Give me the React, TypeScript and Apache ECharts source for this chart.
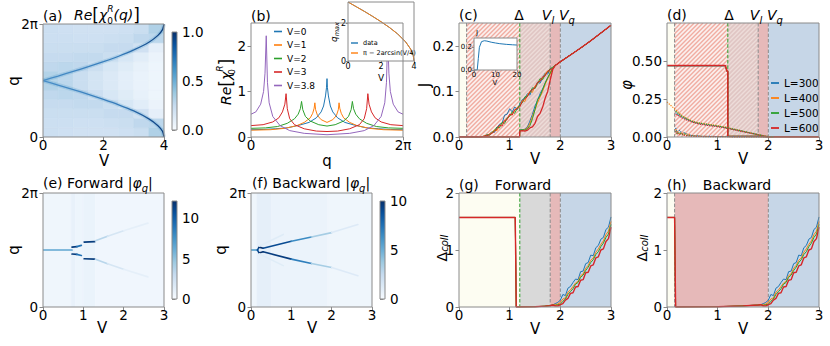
import React, { useEffect, useRef } from 'react';
import * as echarts from 'echarts';

const FONT = "'DejaVu Sans', sans-serif";
const PI = Math.PI;
const TWO_PI = 2 * Math.PI;

const L_COLORS = ['#1f77b4', '#ff7f0e', '#2ca02c', '#d62728'];
const L_NAMES = ['L=300', 'L=400', 'L=500', 'L=600'];
const V_COLORS = ['#1f77b4', '#ff7f0e', '#2ca02c', '#d62728', '#9467bd'];
const V_NAMES = ['V=0', 'V=1', 'V=2', 'V=3', 'V=3.8'];
const BLUES = ['#f7fbff', '#deebf7', '#c6dbef', '#9ecae1', '#6baed6', '#4292c6', '#2171b5', '#08519c', '#08306b'];

// ---------- (a) Re chi_0^R(q) map ----------
const chiVCentres = [0.25, 0.75, 1.25, 1.75, 2.25, 2.75, 3.25, 3.75];
const chiGrid = [
  [0.22, 0.22, 0.23, 0.25, 0.27, 0.31, 0.31, 0.27, 0.25, 0.23, 0.22, 0.22],
  [0.21, 0.22, 0.23, 0.25, 0.28, 0.28, 0.28, 0.28, 0.25, 0.23, 0.22, 0.21],
  [0.20, 0.21, 0.23, 0.26, 0.27, 0.23, 0.23, 0.27, 0.26, 0.23, 0.21, 0.20],
  [0.20, 0.21, 0.23, 0.26, 0.22, 0.18, 0.18, 0.22, 0.26, 0.23, 0.21, 0.20],
  [0.20, 0.22, 0.25, 0.23, 0.16, 0.14, 0.14, 0.16, 0.23, 0.25, 0.22, 0.20],
  [0.21, 0.23, 0.25, 0.16, 0.12, 0.10, 0.10, 0.12, 0.16, 0.25, 0.23, 0.21],
  [0.23, 0.27, 0.20, 0.11, 0.08, 0.07, 0.07, 0.08, 0.11, 0.20, 0.27, 0.23],
  [0.32, 0.28, 0.09, 0.06, 0.05, 0.05, 0.05, 0.05, 0.06, 0.09, 0.28, 0.32],
];
const ridgeV = [0, 0.5, 1, 1.5, 2, 2.5, 3, 3.5, 3.8, 3.95, 4];
const ridgeUpperQ = [3.14, 3.39, 3.65, 3.91, 4.19, 4.49, 4.84, 5.27, 5.65, 5.97, 6.28];
const ridgeLowerQ = [3.14, 2.89, 2.64, 2.37, 2.09, 1.79, 1.45, 1.01, 0.63, 0.32, 0.0];

// ---------- (b) cuts ----------
const cutQ0 = [0, 0.5, 1.0, 1.5, 2.0, 2.4, 2.7, 2.9, 3.0, 3.08, 3.12, 3.1416, 3.16, 3.2, 3.28, 3.38, 3.58, 3.88, 4.28, 4.78, 5.28, 5.78, 6.2832];
const cutRe0 = [0.16, 0.165, 0.18, 0.2, 0.26, 0.32, 0.42, 0.55, 0.68, 0.9, 1.08, 1.28, 1.08, 0.9, 0.68, 0.55, 0.42, 0.32, 0.26, 0.2, 0.18, 0.165, 0.16];
const cutQ1 = [0, 0.8, 1.4, 1.9, 2.2, 2.45, 2.55, 2.61, 2.64, 2.67, 2.75, 2.9, 3.1416, 3.38, 3.53, 3.61, 3.64, 3.67, 3.73, 3.83, 4.08, 4.38, 4.88, 5.48, 6.2832];
const cutRe1 = [0.15, 0.16, 0.19, 0.25, 0.32, 0.42, 0.52, 0.63, 0.75, 0.6, 0.47, 0.38, 0.32, 0.38, 0.47, 0.6, 0.75, 0.63, 0.52, 0.42, 0.32, 0.25, 0.19, 0.16, 0.15];
const cutQ2 = [0, 0.6, 1.1, 1.5, 1.8, 1.95, 2.04, 2.09, 2.14, 2.25, 2.45, 2.8, 3.1416, 3.48, 3.83, 4.03, 4.14, 4.19, 4.24, 4.33, 4.48, 4.78, 5.18, 5.68, 6.2832];
const cutRe2 = [0.19, 0.2, 0.23, 0.3, 0.4, 0.5, 0.62, 0.78, 0.6, 0.45, 0.35, 0.27, 0.24, 0.27, 0.35, 0.45, 0.6, 0.78, 0.62, 0.5, 0.4, 0.3, 0.23, 0.2, 0.19];
const cutQ3 = [0, 0.5, 0.9, 1.15, 1.3, 1.4, 1.45, 1.5, 1.6, 1.8, 2.2, 2.7, 3.1416, 3.58, 4.08, 4.48, 4.68, 4.78, 4.83, 4.88, 4.98, 5.13, 5.38, 5.78, 6.2832];
const cutRe3 = [0.25, 0.27, 0.33, 0.42, 0.55, 0.72, 0.95, 0.62, 0.4, 0.27, 0.18, 0.13, 0.12, 0.13, 0.18, 0.27, 0.4, 0.62, 0.95, 0.72, 0.55, 0.42, 0.33, 0.27, 0.25];
const cutQ38 = [0, 0.2, 0.4, 0.52, 0.58, 0.63, 0.68, 0.75, 0.9, 1.2, 1.6, 2.2, 3.1416, 4.08, 4.68, 5.08, 5.38, 5.53, 5.6, 5.65, 5.7, 5.76, 5.88, 6.08, 6.2832];
const cutRe38 = [0.5, 0.55, 0.72, 1.0, 1.4, 2.22, 1.2, 0.75, 0.45, 0.25, 0.14, 0.08, 0.05, 0.08, 0.14, 0.25, 0.45, 0.75, 1.2, 2.22, 1.4, 1.0, 0.72, 0.55, 0.5];
const qmaxV = [0, 0.5, 1, 1.5, 2, 2.5, 3, 3.5, 3.8, 3.95, 4];
const qmaxData = [3.14, 2.89, 2.64, 2.37, 2.09, 1.79, 1.45, 1.01, 0.63, 0.32, 0.0];
const qmaxFit = [3.1416, 2.891, 2.636, 2.373, 2.094, 1.795, 1.446, 1.009, 0.633, 0.317, 0.0];

// ---------- (c) J(V) ----------
const cBwdV = [0.4, 0.45, 0.5, 0.55, 0.6, 0.65, 0.7, 0.75, 0.8, 0.85, 0.9, 0.95, 1.0, 1.05, 1.1, 1.15, 1.2, 1.25, 1.3, 1.35, 1.4, 1.45, 1.5, 1.55, 1.6, 1.65, 1.7, 1.75, 1.8, 1.85];
const cBwdJ = [
  [0, 0.001, 0.002, 0.004, 0.006, 0.012, 0.010, 0.02, 0.028, 0.03, 0.048, 0.05, 0.062, 0.055, 0.066, 0.06, 0.072, 0.082, 0.085, 0.095, 0.092, 0.105, 0.11, 0.12, 0.118, 0.13, 0.14, 0.138, 0.148, 0.152],
  [0, 0, 0.003, 0.002, 0.007, 0.01, 0.016, 0.014, 0.024, 0.03, 0.035, 0.04, 0.047, 0.05, 0.058, 0.065, 0.068, 0.08, 0.078, 0.092, 0.1, 0.098, 0.112, 0.118, 0.125, 0.128, 0.138, 0.145, 0.142, 0.152],
  [0, 0.001, 0.001, 0.005, 0.004, 0.009, 0.014, 0.022, 0.02, 0.032, 0.03, 0.042, 0.045, 0.055, 0.052, 0.063, 0.07, 0.075, 0.088, 0.09, 0.097, 0.108, 0.106, 0.117, 0.128, 0.126, 0.136, 0.142, 0.15, 0.153],
  [0, 0, 0.002, 0.003, 0.005, 0.008, 0.012, 0.018, 0.026, 0.024, 0.036, 0.038, 0.05, 0.048, 0.06, 0.062, 0.066, 0.078, 0.084, 0.088, 0.1, 0.104, 0.108, 0.12, 0.122, 0.132, 0.134, 0.144, 0.148, 0.15],
];
const cFwdV = [1.2, 1.25, 1.3, 1.35, 1.4, 1.45, 1.5, 1.55, 1.6, 1.65, 1.7, 1.75, 1.8, 1.85];
const cFwdJ = [
  [0.015, 0.016, 0.017, 0.022, 0.035, 0.05, 0.068, 0.08, 0.095, 0.105, 0.118, 0.13, 0.14, 0.15],
  [0.014, 0.015, 0.016, 0.02, 0.03, 0.045, 0.06, 0.075, 0.088, 0.1, 0.115, 0.128, 0.138, 0.15],
  [0.015, 0.016, 0.015, 0.018, 0.025, 0.04, 0.06, 0.082, 0.09, 0.104, 0.118, 0.13, 0.14, 0.15],
  [0.013, 0.014, 0.013, 0.015, 0.02, 0.022, 0.03, 0.045, 0.052, 0.065, 0.085, 0.1, 0.125, 0.148],
];
const cHighV = [1.9, 2.0, 2.2, 2.4, 2.6, 2.8, 3.0];
const cHighJ = [0.157, 0.165, 0.18, 0.195, 0.211, 0.228, 0.245];
const cInsetV = [0, 1.5, 2, 2.5, 3.5, 4.8, 6, 8, 10, 12, 15, 18, 20];
const cInsetJ = [0, 0, 0.1, 0.2, 0.25, 0.258, 0.255, 0.245, 0.238, 0.232, 0.226, 0.222, 0.22];

// ---------- (d) phi(V) ----------
const dFwdV = [0, 1.15, 1.185, 1.2, 1.2, 1.8, 2.0, 3.0];
const dFwdPhi = [
  [0.468, 0.468, 0.43, 0.43, 0.004, 0.005, 0, 0],
  [0.47, 0.47, 0.432, 0.432, 0.004, 0.004, 0, 0],
  [0.469, 0.469, 0.43, 0.43, 0.005, 0.005, 0, 0],
  [0.471, 0.471, 0.432, 0.432, 0.004, 0.004, 0, 0],
];
const dBwdV = [0.17, 0.2, 0.3, 0.4, 0.5, 0.6, 0.8, 1.0, 1.2, 1.4, 1.6, 1.8, 1.9, 2.0, 2.1];
const dBwdPhi = [
  [0.16, 0.15, 0.13, 0.115, 0.1, 0.09, 0.078, 0.07, 0.058, 0.044, 0.03, 0.016, 0.008, 0.003, 0],
  [0.18, 0.17, 0.14, 0.12, 0.105, 0.095, 0.085, 0.075, 0.062, 0.046, 0.031, 0.016, 0.009, 0.003, 0],
  [0.17, 0.16, 0.135, 0.118, 0.102, 0.093, 0.083, 0.072, 0.06, 0.045, 0.03, 0.015, 0.008, 0.002, 0],
  [0.15, 0.145, 0.125, 0.11, 0.098, 0.088, 0.076, 0.068, 0.056, 0.042, 0.028, 0.014, 0.007, 0.002, 0],
];
const dBwdStartV = [0, 0.1];
const dBwdStartPhi = [0.23, 0.2];
const dLowV = [0.17, 0.2, 0.25, 0.3, 0.35, 0.4, 0.5, 0.7, 1.0, 1.5, 2.0];
const dLowPhi = [
  [0.06, 0.03, 0.045, 0.02, 0.03, 0.015, 0.01, 0.005, 0.003, 0.002, 0],
  [0.05, 0.035, 0.02, 0.03, 0.015, 0.02, 0.008, 0.004, 0.002, 0.001, 0],
  [0.04, 0.02, 0.03, 0.015, 0.02, 0.01, 0.006, 0.003, 0.002, 0.001, 0],
  [0.035, 0.025, 0.015, 0.02, 0.01, 0.008, 0.005, 0.003, 0.002, 0.001, 0],
];

// ---------- (e),(f) |phi_q| maps ----------
// bands: [V0, V1, value]; segments: [V0, q0, V1, q1, value]
const eBands = [[0, 0.7, 0.5], [0.7, 0.8, 0.9], [0.8, 1.0, 0.6], [1.0, 1.3, 0.8], [1.3, 3.0, 0.45]];
const eSegs = [
  [0, 3.1416, 0.72, 3.1416, 6.5],
  [0.72, 3.3, 0.84, 3.33, 11.5], [0.84, 3.33, 0.95, 3.4, 9],
  [0.72, 2.92, 0.84, 2.9, 11.5], [0.84, 2.9, 0.95, 2.84, 9],
  [1.02, 3.58, 1.28, 3.6, 11.5], [1.02, 2.66, 1.28, 2.64, 11.5],
  [1.3, 3.65, 1.6, 3.9, 3.5], [1.6, 3.9, 2.0, 4.2, 2], [2.0, 4.2, 2.6, 4.62, 1.1],
  [1.3, 2.63, 1.6, 2.38, 3.5], [1.6, 2.38, 2.0, 2.08, 2], [2.0, 2.08, 2.6, 1.66, 1.1],
];
const fBands = [[0, 0.15, 0.4], [0.15, 0.5, 0.9], [0.5, 1.9, 0.6], [1.9, 3.0, 0.4]];
const fSegs = [
  [0, 3.1416, 0.16, 3.1416, 6],
  [0.16, 3.14, 0.2, 3.3, 9], [0.2, 3.3, 0.3, 3.24, 10], [0.16, 3.14, 0.2, 2.98, 9], [0.2, 2.98, 0.3, 3.04, 10],
  [0.2, 3.35, 0.8, 4.0, 1.2], [0.2, 2.93, 0.8, 2.28, 1.2],
  [0.3, 3.24, 1.0, 3.62, 9], [1.0, 3.62, 1.5, 3.86, 6.5], [1.5, 3.86, 2.0, 4.1, 3.5], [2.0, 4.1, 2.65, 4.55, 1.3],
  [0.3, 3.04, 1.0, 2.64, 9.5], [1.0, 2.64, 1.5, 2.4, 7], [1.5, 2.4, 2.0, 2.18, 3.5], [2.0, 2.18, 2.65, 1.72, 1.3],
];

// ---------- (g),(h) Delta_coll ----------
const ghV = [1.9, 1.95, 2.0, 2.05, 2.1, 2.15, 2.2, 2.25, 2.3, 2.35, 2.4, 2.45, 2.5, 2.55, 2.6, 2.65, 2.7, 2.75, 2.8, 2.85, 2.9, 2.95, 3.0];
const ghDelta = [
  [0.06, 0.08, 0.12, 0.22, 0.20, 0.33, 0.36, 0.43, 0.49, 0.48, 0.62, 0.63, 0.76, 0.78, 0.91, 0.90, 1.04, 1.08, 1.19, 1.22, 1.36, 1.40, 1.58],
  [0.04, 0.05, 0.08, 0.14, 0.16, 0.26, 0.30, 0.36, 0.42, 0.45, 0.55, 0.58, 0.68, 0.73, 0.82, 0.86, 0.96, 1.02, 1.10, 1.16, 1.27, 1.33, 1.50],
  [0.03, 0.04, 0.05, 0.10, 0.14, 0.22, 0.27, 0.32, 0.40, 0.43, 0.52, 0.56, 0.64, 0.70, 0.78, 0.83, 0.92, 0.97, 1.06, 1.12, 1.22, 1.28, 1.45],
  [0.02, 0.02, 0.04, 0.06, 0.12, 0.15, 0.24, 0.25, 0.35, 0.36, 0.47, 0.48, 0.60, 0.61, 0.72, 0.74, 0.86, 0.88, 1.00, 1.02, 1.15, 1.20, 1.40],
];
const gLowV = [0, 1.11, 1.13, 1.5, 1.7, 1.8, 1.85];
const gLowDelta = [1.571, 1.571, 0, 0.004, 0.015, 0.025, 0.035];
const hLowV = [0, 0.15, 0.17, 1.0, 1.5, 1.8, 1.85];
const hLowDelta = [1.571, 1.571, 0, 0.005, 0.02, 0.035, 0.04];

// ---------- layout ----------
const GRID_KEYS = ['a', 'acb', 'b', 'bin', 'c', 'cin', 'd', 'e', 'ecb', 'f', 'fcb', 'g', 'h'];
const GEOM: Record<string, number[]> = {
  a: [43, 24, 121, 113],
  acb: [172, 32, 5, 98],
  b: [251, 23, 152, 114],
  bin: [348, 2, 66, 59],
  c: [459, 23, 152, 114],
  cin: [474, 38, 43, 32],
  d: [667, 23, 152, 114],
  e: [43, 193, 121, 114],
  ecb: [172, 201, 5, 98],
  f: [251, 193, 121, 114],
  fcb: [380, 201, 5, 98],
  g: [459, 193, 152, 114],
  h: [667, 193, 152, 114],
};
const gi = (k: string) => GRID_KEYS.indexOf(k);

function hex2rgb(h: string) {
  return [parseInt(h.slice(1, 3), 16), parseInt(h.slice(3, 5), 16), parseInt(h.slice(5, 7), 16)];
}
function blues(t: number) {
  const u = Math.max(0, Math.min(1, t));
  const s = u * 8;
  const i = Math.min(7, Math.floor(s));
  const f = s - i;
  const a = hex2rgb(BLUES[i]);
  const b = hex2rgb(BLUES[i + 1]);
  const c = a.map((v, k) => Math.round(v + (b[k] - v) * f));
  return `rgb(${c[0]},${c[1]},${c[2]})`;
}

const SPINE = '#8a8a8a';
const TICK_FONT = 13.5;

function axisDef(k: string, dir: 'x' | 'y', min: number, max: number, ticks: number[], labels: string[], o: any = {}) {
  const fmt = (v: number) => {
    let best = 0;
    let bd = Infinity;
    ticks.forEach((t, i) => {
      const d = Math.abs(t - v);
      if (d < bd) { bd = d; best = i; }
    });
    return labels[best];
  };
  const size = o.size ?? TICK_FONT;
  return {
    type: 'value',
    gridIndex: gi(k),
    min,
    max,
    position: o.position ?? (dir === 'x' ? 'bottom' : 'left'),
    show: o.show ?? true,
    z: o.z ?? 0,
    axisLine: { show: false },
    splitLine: { show: false },
    axisTick: { show: true, customValues: ticks, length: o.tick ?? 3.5, lineStyle: { color: SPINE, width: 1 } },
    axisLabel: {
      customValues: ticks,
      formatter: fmt,
      fontSize: size,
      lineHeight: dir === 'x' ? size : undefined,
      fontFamily: FONT,
      color: '#000',
      margin: o.margin ?? (dir === 'x' ? 1 : 5),
    },
  };
}

const RICH: any = {
  n: { fontSize: 14, fontFamily: FONT, fill: '#000' },
  i: { fontSize: 14, fontFamily: FONT, fontStyle: 'italic', fill: '#000' },
  vi: { fontSize: 14, fontFamily: FONT, fontStyle: 'italic', lineHeight: 20, fill: '#000' },
  b: { fontSize: 17, fontFamily: FONT, lineHeight: 21, fill: '#000' },
  sub: { fontSize: 9, fontFamily: FONT, verticalAlign: 'bottom', lineHeight: 10, width: 0, fill: '#000' },
  sup: { fontSize: 9, fontFamily: FONT, fontStyle: 'italic', verticalAlign: 'top', lineHeight: 10, fill: '#000' },
  sb: { fontSize: 10, fontFamily: FONT, fontStyle: 'italic', verticalAlign: 'bottom', lineHeight: 10, fill: '#000' },
  i8: { fontSize: 9, fontFamily: FONT, fontStyle: 'italic', lineHeight: 12, fill: '#000' },
  sb6: { fontSize: 6.5, fontFamily: FONT, fontStyle: 'italic', verticalAlign: 'bottom', lineHeight: 7, fill: '#000' },
};

function txt(x: number, y: number, text: string, o: any = {}) {
  return {
    type: 'text',
    x,
    y,
    rotation: o.rot ? Math.PI / 2 : 0,
    z: 100,
    silent: true,
    style: {
      text,
      fill: '#000',
      fontSize: o.size ?? 14,
      lineHeight: o.lh,
      fontFamily: FONT,
      fontStyle: o.italic ? 'italic' : 'normal',
      align: o.align ?? 'center',
      verticalAlign: 'middle',
      rich: RICH,
    },
  };
}

const REGION_FILL = ['#fdfdf2', '#fbf0ee', '#e0c6c4', '#e6b9b9', '#c6d6e7', '#d9d9d9'];
function renderRegions(params: any, api: any) {
  const cs = params.coordSys;
  const x0 = api.coord([api.value(0), 0])[0];
  const x1 = api.coord([api.value(1), 0])[0];
  const kind = api.value(2);
  const y0 = cs.y;
  const y1 = cs.y + cs.height;
  const children: any[] = [
    { type: 'rect', shape: { x: x0, y: y0, width: x1 - x0, height: y1 - y0 }, style: { fill: REGION_FILL[kind] } },
  ];
  if (kind === 1 || kind === 2) {
    const stroke = kind === 1 ? '#f1ada2' : '#eddcd9';
    const step = 4.4;
    const start = Math.ceil((x0 + y0) / step) * step;
    for (let c = start; c < x1 + y1; c += step) {
      const xa = Math.max(x0, c - y1);
      const xb = Math.min(x1, c - y0);
      if (xb > xa) {
        children.push({ type: 'line', shape: { x1: xa, y1: c - xa, x2: xb, y2: c - xb }, style: { stroke, lineWidth: 1.4 } });
      }
    }
  }
  return { type: 'group', children };
}
function renderVLines(params: any, api: any) {
  const cs = params.coordSys;
  const x = api.coord([api.value(0), 0])[0];
  const green = api.value(1) === 1;
  return {
    type: 'line',
    shape: { x1: x, y1: cs.y, x2: x, y2: cs.y + cs.height },
    style: { stroke: green ? '#2ca02c' : '#8a8a8a', lineWidth: 1, lineDash: [3.5, 1.8] },
  };
}
function renderCells(vmax: number) {
  return (params: any, api: any) => {
    const p0 = api.coord([api.value(0), api.value(3)]);
    const p1 = api.coord([api.value(1), api.value(2)]);
    const c = blues(api.value(4) / vmax);
    return { type: 'rect', shape: { x: p0[0], y: p0[1], width: p1[0] - p0[0], height: p1[1] - p0[1] }, style: { fill: c, stroke: c, lineWidth: 0.6 } };
  };
}
function renderBands(vmax: number) {
  return (params: any, api: any) => {
    const cs = params.coordSys;
    const x0 = api.coord([api.value(0), 0])[0];
    const x1 = api.coord([api.value(1), 0])[0];
    const c = blues(api.value(2) / vmax);
    return { type: 'rect', shape: { x: x0, y: cs.y, width: x1 - x0, height: cs.height }, style: { fill: c, stroke: c, lineWidth: 0.5 } };
  };
}
function renderSegs(vmax: number, lw: number) {
  return (params: any, api: any) => {
    const a = api.coord([api.value(0), api.value(1)]);
    const b = api.coord([api.value(2), api.value(3)]);
    return {
      type: 'line',
      shape: { x1: a[0], y1: a[1], x2: b[0], y2: b[1] },
      style: { stroke: blues(api.value(4) / vmax), lineWidth: lw, lineCap: 'round' },
    };
  };
}
function renderColorbar(params: any) {
  const cs = params.coordSys;
  return {
    type: 'rect',
    shape: { x: cs.x, y: cs.y, width: cs.width, height: cs.height },
    style: { fill: new echarts.graphic.LinearGradient(0, 1, 0, 0, BLUES.map((c, i) => ({ offset: i / 8, color: c }))) },
  };
}

function custom(k: string, data: any[], renderItem: any, z = 1) {
  return {
    type: 'custom',
    coordinateSystem: 'cartesian2d',
    xAxisIndex: gi(k),
    yAxisIndex: gi(k),
    data,
    renderItem,
    silent: true,
    clip: true,
    z,
  };
}
function line(k: string, name: string, xs: number[], ys: number[], color: any, o: any = {}) {
  return {
    type: 'line',
    name,
    xAxisIndex: gi(k),
    yAxisIndex: gi(k),
    data: xs.map((x, i) => [x, ys[i]]),
    showSymbol: false,
    symbol: 'none',
    smooth: o.smooth ?? false,
    silent: true,
    z: o.z ?? 3,
    lineStyle: { color, width: o.width ?? 1, type: o.type ?? 'solid', opacity: o.opacity ?? 1 },
    itemStyle: { color: typeof color === 'string' ? color : '#2a6db0' },
  };
}

function buildOption() {
  const grid = GRID_KEYS.map((k) => {
    const [l, t, w, h] = GEOM[k];
    return { left: l, top: t, width: w, height: h, containLabel: false };
  });
  const qT = [0, TWO_PI];
  const qL = ['0', '2π'];
  const v3 = [0, 1, 2, 3];
  const v3L = ['0', '1', '2', '3'];
  const xAxis = [
    axisDef('a', 'x', 0, 4, [0, 2, 4], ['0', '2', '4']),
    axisDef('acb', 'x', 0, 1, [], [], { show: false }),
    axisDef('b', 'x', 0, TWO_PI, qT, qL),
    axisDef('bin', 'x', 0, 4, [0, 2, 4], ['0', '2', '4'], { size: 8, tick: 2, margin: 1, z: 60 }),
    axisDef('c', 'x', 0, 3, v3, v3L),
    axisDef('cin', 'x', 0, 20, [0, 10, 20], ['0', '10', '20'], { size: 7, tick: 2, margin: 1, z: 60 }),
    axisDef('d', 'x', 0, 3, v3, v3L),
    axisDef('e', 'x', 0, 3, v3, v3L),
    axisDef('ecb', 'x', 0, 1, [], [], { show: false }),
    axisDef('f', 'x', 0, 3, v3, v3L),
    axisDef('fcb', 'x', 0, 1, [], [], { show: false }),
    axisDef('g', 'x', 0, 3, v3, v3L),
    axisDef('h', 'x', 0, 3, v3, v3L),
  ];
  const yAxis = [
    axisDef('a', 'y', 0, TWO_PI, qT, qL),
    axisDef('acb', 'y', 0, 1, [0, 0.5, 1], ['0.0', '0.5', '1.0'], { position: 'right' }),
    axisDef('b', 'y', 0, 2.5, [0, 1, 2], ['0', '1', '2']),
    axisDef('bin', 'y', 0, PI, [0, 2], ['0', '2'], { size: 8, tick: 2, margin: 2, z: 60 }),
    axisDef('c', 'y', 0, 0.25, [0, 0.1, 0.2], ['0.0', '0.1', '0.2']),
    axisDef('cin', 'y', 0, 0.282, [0, 0.2], ['0.0', '0.2'], { size: 7, tick: 2, margin: 2, z: 60 }),
    axisDef('d', 'y', 0, 0.75, [0, 0.25, 0.5], ['0.00', '0.25', '0.50']),
    axisDef('e', 'y', 0, TWO_PI, qT, qL),
    axisDef('ecb', 'y', 0, 12.1, [0, 5, 10], ['0', '5', '10'], { position: 'right' }),
    axisDef('f', 'y', 0, TWO_PI, qT, qL),
    axisDef('fcb', 'y', 0, 10, [0, 5, 10], ['0', '5', '10'], { position: 'right' }),
    axisDef('g', 'y', 0, 2, [0, 1, 2], ['0', '1', '2']),
    axisDef('h', 'y', 0, 2, [0, 1, 2], ['0', '1', '2']),
  ];

  const series: any[] = [];

  // (a)
  const cells: number[][] = [];
  chiVCentres.forEach((c, i) => {
    chiGrid[i].forEach((v, j) => {
      cells.push([c - 0.25, c + 0.25, (j * PI) / 6, ((j + 1) * PI) / 6, v]);
    });
  });
  series.push(custom('a', cells, renderCells(1), 1));
  [ridgeUpperQ, ridgeLowerQ].forEach((qs) => {
    series.push(line('a', '', ridgeV, qs, 'rgba(66,146,198,0.22)', { width: 4, smooth: 0.2, z: 2 }));
    const grad = new echarts.graphic.LinearGradient(0, 0, 1, 0, [
      { offset: 0, color: '#4a8fc8' },
      { offset: 0.65, color: '#3479b9' },
      { offset: 1, color: '#0b3d7e' },
    ]);
    series.push(line('a', '', ridgeV, qs, grad, { width: 1.3, smooth: 0.2, z: 3 }));
  });
  series.push(custom('acb', [[0.5, 0.5]], renderColorbar, 1));

  // (b)
  const cuts = [[cutQ0, cutRe0], [cutQ1, cutRe1], [cutQ2, cutRe2], [cutQ3, cutRe3], [cutQ38, cutRe38]];
  cuts.forEach(([qs, rs], i) => series.push(line('b', V_NAMES[i], qs, rs, V_COLORS[i])));
  series.push(line('bin', 'data', qmaxV, qmaxData, '#1f77b4', { z: 60 }));
  series.push(line('bin', 'π − 2arcsin(V/4)', qmaxV, qmaxFit, '#ff7f0e', { z: 61 }));

  // (c)
  series.push(custom('c', [[0, 0.15, 0], [0.15, 1.2, 1], [1.2, 1.8, 2], [1.8, 2.0, 3], [2.0, 3.0, 4]], renderRegions, 1));
  series.push(custom('c', [[0.15, 0], [1.2, 1], [1.8, 0], [2.0, 0]], renderVLines, 2));
  for (let l = 0; l < 4; l++) {
    const bx = [0, ...cBwdV, ...cHighV];
    const by = [0, ...cBwdJ[l], ...cHighJ];
    series.push(line('c', L_NAMES[l], bx, by, L_COLORS[l]));
    const fx = [0, 1.195, ...cFwdV, ...cHighV];
    const fy = [0, 0, ...cFwdJ[l], ...cHighJ];
    series.push(line('c', L_NAMES[l], fx, fy, L_COLORS[l], { width: l === 3 ? 1.3 : 1 }));
  }
  series.push(line('cin', '', cInsetV, cInsetJ, '#1f77b4', { z: 60 }));

  // (d)
  series.push(custom('d', [[0, 0.15, 0], [0.15, 1.2, 1], [1.2, 1.8, 2], [1.8, 2.0, 3], [2.0, 3.0, 4]], renderRegions, 1));
  series.push(custom('d', [[0.15, 0], [1.2, 1], [1.8, 0], [2.0, 0]], renderVLines, 2));
  for (let l = 0; l < 4; l++) {
    series.push(line('d', L_NAMES[l], dFwdV, dFwdPhi[l], L_COLORS[l], { width: l === 3 ? 1.5 : 1 }));
  }
  for (let l = 0; l < 4; l++) {
    const bx = l === 1 ? [...dBwdStartV, ...dBwdV] : dBwdV;
    const by = l === 1 ? [...dBwdStartPhi, ...dBwdPhi[l]] : dBwdPhi[l];
    series.push(line('d', L_NAMES[l], bx, by, L_COLORS[l], { type: 'dotted', width: 1.2 }));
    series.push(line('d', L_NAMES[l], dLowV, dLowPhi[l], L_COLORS[l], { type: 'dotted', width: 1.2 }));
  }

  // (e)
  series.push(custom('e', eBands, renderBands(12.1), 1));
  series.push(custom('e', eSegs, renderSegs(12.1, 1.7), 2));
  series.push(custom('ecb', [[0.5, 0.5]], renderColorbar, 1));
  // (f)
  series.push(custom('f', fBands, renderBands(10), 1));
  series.push(custom('f', fSegs, renderSegs(10, 1.6), 2));
  series.push(custom('fcb', [[0.5, 0.5]], renderColorbar, 1));

  // (g)
  series.push(custom('g', [[0, 1.2, 0], [1.2, 1.8, 5], [1.8, 2.0, 3], [2.0, 3.0, 4]], renderRegions, 1));
  series.push(custom('g', [[1.2, 1], [1.8, 0], [2.0, 0]], renderVLines, 2));
  for (let l = 0; l < 4; l++) {
    series.push(line('g', L_NAMES[l], [...gLowV, ...ghV], [...gLowDelta, ...ghDelta[l]], L_COLORS[l], { width: l === 3 ? 1.4 : 1 }));
  }
  // (h)
  series.push(custom('h', [[0, 0.15, 0], [0.15, 2.0, 3], [2.0, 3.0, 4]], renderRegions, 1));
  series.push(custom('h', [[0.15, 0], [2.0, 0]], renderVLines, 2));
  for (let l = 0; l < 4; l++) {
    series.push(line('h', L_NAMES[l], [...hLowV, ...ghV], [...hLowDelta, ...ghDelta[l]], L_COLORS[l], { width: l === 3 ? 1.4 : 1 }));
  }

  // graphics
  const elements: any[] = [];
  ['bin', 'cin'].forEach((k) => {
    const [l, t, w, h] = GEOM[k];
    elements.push({ type: 'rect', z: 50, silent: true, shape: { x: l, y: t, width: w, height: h }, style: { fill: '#fff' } });
  });
  GRID_KEYS.forEach((k) => {
    const [l, t, w, h] = GEOM[k];
    elements.push({ type: 'rect', z: 100, silent: true, shape: { x: l, y: t, width: w, height: h }, style: { fill: 'none', stroke: SPINE, lineWidth: 1 } });
  });
  const chiTitle = '{i|Re}{b|[}{i|χ}{sub|0}{sup|R}{i|(q)}{b|]}';
  const AX = { size: 15, lh: 15 };
  elements.push(
    txt(43, 16, '(a)', { align: 'left' }),
    txt(74, 15, chiTitle, { align: 'left' }),
    txt(251, 16, '(b)', { align: 'left' }),
    txt(459, 15, '(c)', { align: 'left' }),
    txt(519, 15, 'Δ'),
    txt(548, 15, '{vi|V}{sb|l}'),
    txt(567, 15, '{vi|V}{sb|q}'),
    txt(667, 15, '(d)', { align: 'left' }),
    txt(729, 15, 'Δ'),
    txt(756, 15, '{vi|V}{sb|l}'),
    txt(775, 15, '{vi|V}{sb|q}'),
    txt(43, 183, '{n|(e) Forward }{n||}{vi|φ}{sb|q}{n||}', { align: 'left' }),
    txt(252, 183, '{n|(f) Backward }{n||}{vi|φ}{sb|q}{n||}', { align: 'left' }),
    txt(459, 185, '(g)', { align: 'left' }),
    txt(523, 185, 'Forward'),
    txt(667, 185, '(h)', { align: 'left' }),
    txt(737, 185, 'Backward'),
    // axis names
    txt(14, 81, 'q', { rot: true, ...AX }),
    txt(104, 161, 'V', AX),
    txt(226, 82, '{i|Re}{b|[}{i|χ}{sub|0}{sup|R}{b|]}', { rot: true }),
    txt(327, 161, 'q', AX),
    txt(425, 85, 'J', { rot: true, ...AX }),
    txt(535, 159, 'V', AX),
    txt(627, 85, 'φ', { rot: true, italic: true, ...AX }),
    txt(743, 159, 'V', AX),
    txt(14, 250, 'q', { rot: true, ...AX }),
    txt(102, 328, 'V', AX),
    txt(221, 250, 'q', { rot: true, ...AX }),
    txt(312, 328, 'V', AX),
    txt(442, 248, '{n|Δ}{sb|coll}', { rot: true }),
    txt(535, 329, 'V', AX),
    txt(642, 248, '{n|Δ}{sb|coll}', { rot: true }),
    txt(743, 329, 'V', AX),
    txt(334, 32, '{i8|q}{sb6|max}', { rot: true, size: 9 }),
    txt(381, 78, 'V', { size: 9 }),
    txt(477, 33, 'J', { size: 7 }),
    txt(495, 83, 'V', { size: 7 }),
  );

  const legendBase = {
    orient: 'vertical',
    icon: 'rect',
    selectedMode: false,
    padding: 0,
    z: 70,
    inactiveColor: '#ccc',
  };
  const legend = [
    { ...legendBase, data: V_NAMES, left: 274, top: 26, itemWidth: 8, itemHeight: 1.6, itemGap: 2.5, textStyle: { fontSize: 9, lineHeight: 11, fontFamily: FONT, color: '#000' } },
    { ...legendBase, data: ['data', 'π − 2arcsin(V/4)'], left: 351, top: 39, itemWidth: 7, itemHeight: 1.4, itemGap: 2, textStyle: { fontSize: 6.5, lineHeight: 8, fontFamily: FONT, color: '#000' } },
    { ...legendBase, data: L_NAMES, left: 771, top: 77, itemWidth: 8, itemHeight: 1.8, itemGap: 3, textStyle: { fontSize: 10.5, lineHeight: 12, fontFamily: FONT, color: '#000' } },
  ];

  return {
    animation: false,
    backgroundColor: '#ffffff',
    textStyle: { fontFamily: FONT },
    grid,
    xAxis,
    yAxis,
    legend,
    series,
    graphic: { elements },
  };
}

export default function App() {
  const ref = useRef<HTMLDivElement>(null);
  useEffect(() => {
    if (!ref.current) return;
    const chart = echarts.init(ref.current, undefined, { renderer: 'svg' });
    chart.setOption(buildOption() as any);
    return () => chart.dispose();
  }, []);
  return <div ref={ref} style={{ position: 'fixed', left: 0, top: 0, width: 830, height: 346 }} />;
}
